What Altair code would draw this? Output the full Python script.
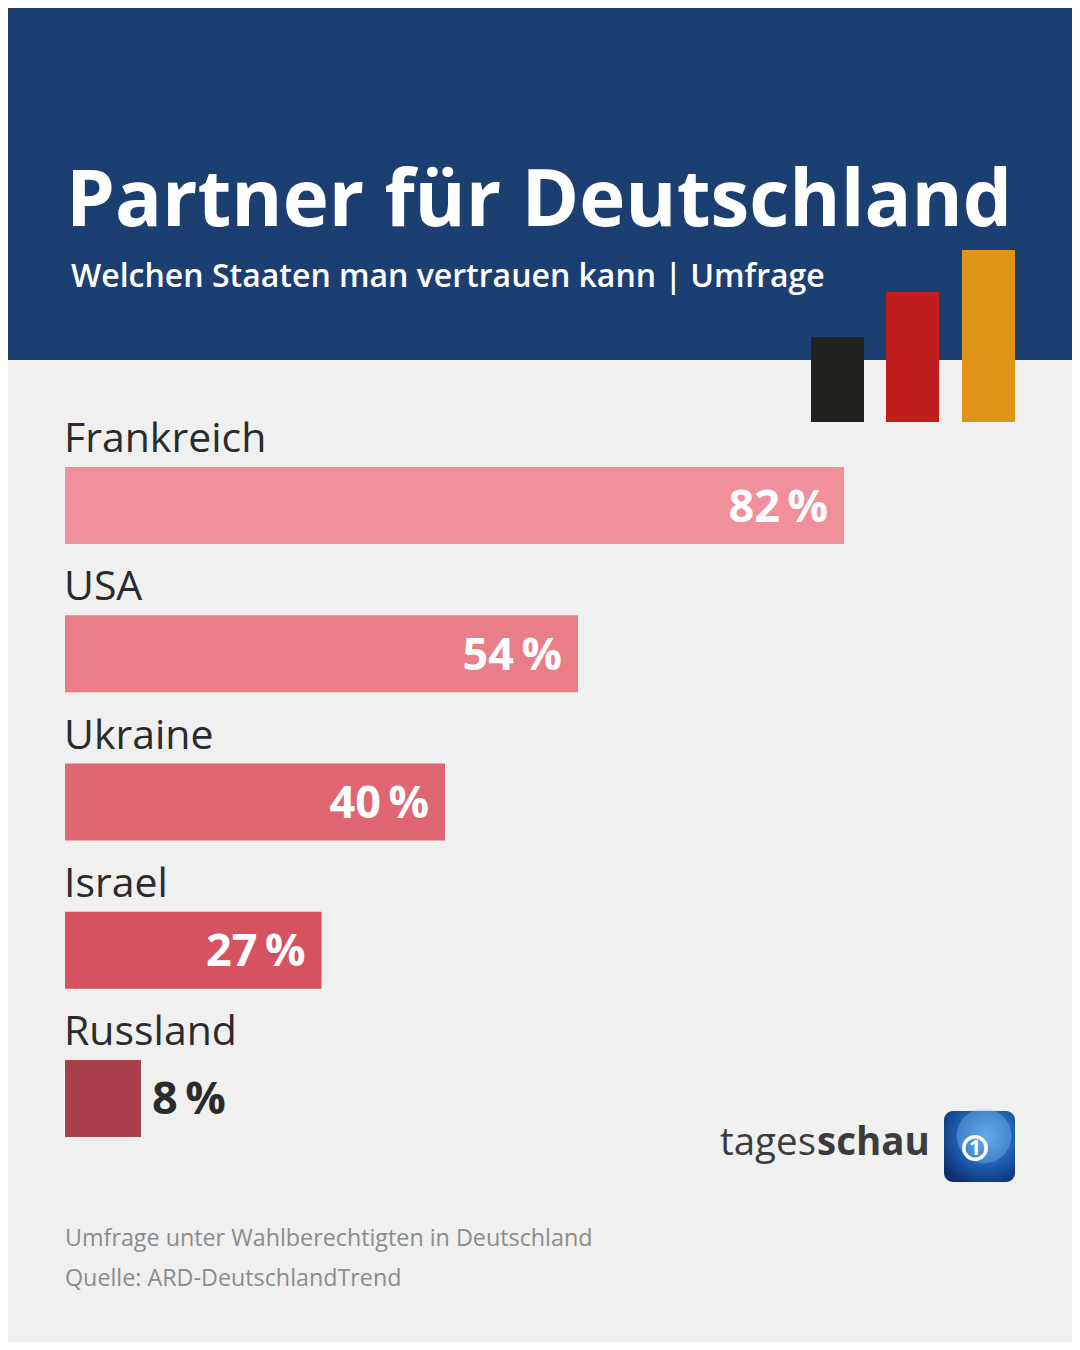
import altair as alt
import pandas as pd

# ---------------- data ----------------
countries = ["Frankreich", "USA", "Ukraine", "Israel", "Russland"]
values = [82, 54, 40, 27, 8]
bar_colors = ["#f0909a", "#ea7e87", "#e06672", "#d5525f", "#a8414c"]

title_text = "Partner für Deutschland"
subtitle_text = "Welchen Staaten man vertrauen kann | Umfrage"
footer_lines = ["Umfrage unter Wahlberechtigten in Deutschland",
                "Quelle: ARD-DeutschlandTrend"]
brand_regular = "tages"
brand_bold = "schau"
flag_colors = ["#23211e", "#c01d1d", "#e09417"]

# ---------------- layout helpers ----------------
W, H = 1064, 1334
OFF = 8  # page margin of the html page


def px(v):
    return v - OFF


FONT = "Open Sans"
DARK = "#2b2b2b"

df = pd.DataFrame({"country": countries, "value": values})
one = pd.DataFrame({"k": [0]})

xscale = alt.Scale(domain=[0, 100], range=[px(65), px(1015)])
yscale = alt.Scale(domain=countries, range=[px(467), px(1137)],
                   paddingInner=0.48, paddingOuter=0)


def X(field="value:Q"):
    return alt.X(field, scale=xscale, axis=None)


def Y():
    return alt.Y("country:N", scale=yscale, axis=None)


layers = []

# header band
layers.append(alt.Chart(one).mark_rect(color="#1c3f72").encode(
    x=alt.value(0), x2=alt.value(W), y=alt.value(0), y2=alt.value(px(360))))

# title / subtitle
layers.append(alt.Chart(one).mark_text(
    text=title_text, align="left", baseline="alphabetic", font=FONT,
    fontWeight="bold", fontSize=78, color="white").encode(
    x=alt.value(px(66)), y=alt.value(px(226))))
layers.append(alt.Chart(one).mark_text(
    text=subtitle_text, align="left", baseline="alphabetic", font=FONT,
    fontWeight=600, fontSize=32, color="white").encode(
    x=alt.value(px(71)), y=alt.value(px(287))))

# flag logo bars
flag_boxes = [(811, 864, 337), (886, 939, 292), (962, 1015, 250)]
for col, (x0, x1, y0) in zip(flag_colors, flag_boxes):
    layers.append(alt.Chart(one).mark_rect(color=col).encode(
        x=alt.value(px(x0)), x2=alt.value(px(x1)),
        y=alt.value(px(y0)), y2=alt.value(px(422))))

# bars
layers.append(alt.Chart(df).mark_bar().encode(
    x=X(), y=Y(),
    color=alt.Color("country:N", scale=alt.Scale(domain=countries, range=bar_colors),
                    legend=None)))

# country names above bars
layers.append(alt.Chart(df).transform_calculate(zero="0").mark_text(
    align="left", baseline="alphabetic", dx=-1, dy=-53.5, font=FONT,
    fontSize=41, color=DARK).encode(
    x=X("zero:Q"), y=Y(), text="country:N"))

# value labels inside
layers.append(alt.Chart(df).transform_filter("datum.value >= 20").transform_calculate(
    label="datum.value + '\u2009%'").mark_text(
    align="right", baseline="alphabetic", dx=-16, dy=16, font=FONT,
    fontWeight="bold", fontSize=45, color="white").encode(
    x=X(), y=Y(), text="label:N"))

# value labels outside (small bars)
layers.append(alt.Chart(df).transform_filter("datum.value < 20").transform_calculate(
    label="datum.value + '\u2009%'").mark_text(
    align="left", baseline="alphabetic", dx=11, dy=16, font=FONT,
    fontWeight="bold", fontSize=45, color=DARK).encode(
    x=X(), y=Y(), text="label:N"))

# brand logo
layers.append(alt.Chart(one).mark_text(
    text=brand_regular, align="right", baseline="alphabetic", font=FONT,
    fontSize=38.5, color="#3c3c3c").encode(
    x=alt.value(px(816)), y=alt.value(px(1155))))
layers.append(alt.Chart(one).mark_text(
    text=brand_bold, align="left", baseline="alphabetic", font=FONT,
    fontWeight="bold", fontSize=38.5, color="#3c3c3c").encode(
    x=alt.value(px(817)), y=alt.value(px(1155))))

icon_fill = alt.RadialGradient(
    gradient="radial",
    stops=[alt.GradientStop(color="#4f9be6", offset=0),
           alt.GradientStop(color="#1f5fb4", offset=0.55),
           alt.GradientStop(color="#0c2f6e", offset=1)],
    x1=0.6, y1=0.35, x2=0.6, y2=0.35, r1=0, r2=0.75)
layers.append(alt.Chart(one).mark_rect(cornerRadius=9, color=icon_fill).encode(
    x=alt.value(px(944)), x2=alt.value(px(1015)),
    y=alt.value(px(1111)), y2=alt.value(px(1182))))
layers.append(alt.Chart(one).mark_point(
    shape="circle", filled=True, color="#8fd0f5", opacity=0.3, size=3000).encode(
    x=alt.value(px(984)), y=alt.value(px(1136))))
layers.append(alt.Chart(one).mark_point(
    shape="circle", filled=False, color="white", strokeWidth=3.5, size=500, opacity=1).encode(
    x=alt.value(px(975)), y=alt.value(px(1148))))
layers.append(alt.Chart(one).mark_text(
    text="1", align="center", baseline="middle", font=FONT, fontWeight="bold",
    fontSize=21, color="white").encode(
    x=alt.value(px(975)), y=alt.value(px(1149))))

# footer
for i, line in enumerate(footer_lines):
    layers.append(alt.Chart(one).mark_text(
        text=line, align="left", baseline="alphabetic", font=FONT,
        fontSize=23.3, color="#8c8c8c").encode(
        x=alt.value(px(65)), y=alt.value(px(1246 + 40 * i))))

chart = alt.layer(*layers).properties(
    width=W, height=H, padding=0, autosize="none", background="#f0f0f0"
).configure_view(strokeWidth=0)

chart.save("out.html", embed_options={"renderer": "svg", "actions": False})
